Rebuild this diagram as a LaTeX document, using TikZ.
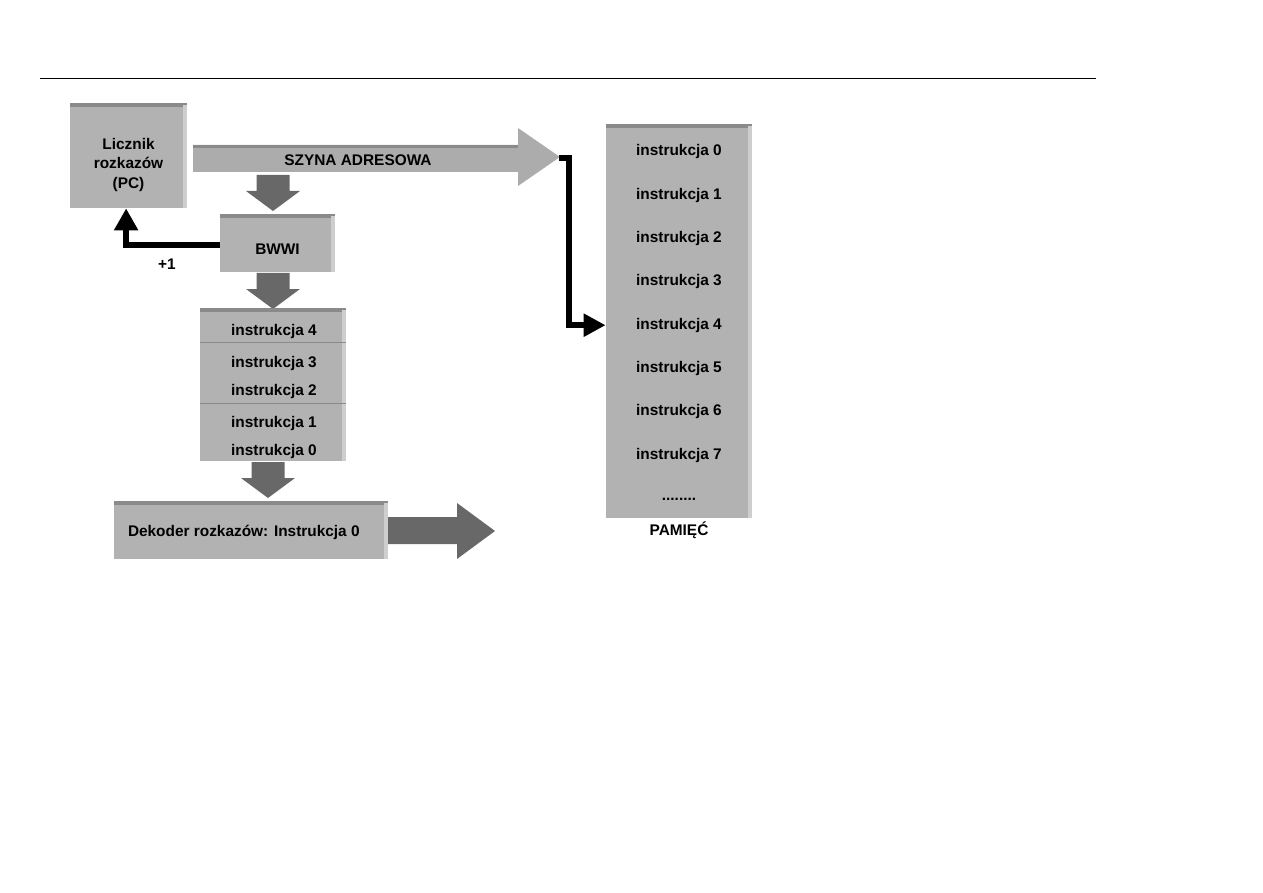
\documentclass[tikz,border=0pt]{standalone}
\usepackage{fontspec}
\setmainfont{Liberation Sans}
\usetikzlibrary{arrows.meta,positioning}

\definecolor{boxgray}{RGB}{178,178,178}
\definecolor{topgray}{RGB}{138,138,138}
\definecolor{sidegray}{RGB}{206,206,206}
\definecolor{busgray}{RGB}{172,172,172}
\definecolor{fatgray}{RGB}{104,104,104}

\begin{document}
\begin{tikzpicture}[x=0.5pt, y=-0.5pt,
    font=\fontsize{7.7}{9.8}\selectfont\bfseries,
    box/.style={fill=boxgray, inner sep=0pt, path picture={
        \fill[topgray] (path picture bounding box.north west) rectangle ([yshift=-2pt]path picture bounding box.north east);
        \fill[sidegray] ([xshift=-2.2pt,yshift=-1pt]path picture bounding box.north east) rectangle (path picture bounding box.south east);}},
    sz/.style 2 args={minimum width=#1*0.5pt, minimum height=#2*0.5pt},
    item/.style={inner sep=0pt, yshift=-1pt},
    link/.style={line width=3pt, -{Triangle[length=11pt,width=11pt]}},
    fb/.style={line width=3pt, -{Triangle[length=11pt,width=11.5pt]}},
    fat/.style={fill=fatgray},
    pics/downarr/.style={code={
        \fill[fat] (-16.5,0) -- (16.5,0) -- (16.5,16) -- (27,16) -- (0,36) -- (-27,16) -- (-16.5,16) -- cycle;}}
    ]
    \useasboundingbox (0,0) rectangle (1263,893);

    \draw[line width=0.5pt] (40,79) -- (1096,79);

    % licznik rozkazow
    \node[box, sz={117}{105}, label={[align=center, yshift=-4.6pt]center:Licznik\\rozkazów\\(PC)}] (licz) at (128.5,155.5) {};

    % szyna adresowa
    \fill[busgray] (193,145) -- (518,145) -- (518,128) -- (560,157) -- (518,186) -- (518,172) -- (193,172) -- cycle;
    \fill[topgray] (193,145) rectangle (518,148);
    \node[item] (bus) at (358,158) {SZYNA ADRESOWA};
    \coordinate (bustip) at (559,158);

    % BWWI
    \pic at (273,175) {downarr};
    \node[box, sz={115}{58}, label={[yshift=-3pt]center:BWWI}] (bwwi) at (277.5,243) {};
    \draw[fb] ([yshift=-1pt]bwwi.west) -| ([xshift=-1.2pt]licz.south);
    \node[item] (plus) at (167,262) {+1};

    % kolejka instrukcji
    \pic at (273,273) {downarr};
    \node[box, sz={146}{153}] (queue) at (273,384.5) {};
    \draw[topgray, line width=0.5pt] (queue.west |- 0,342) -- (queue.east |- 0,342);
    \draw[topgray, line width=0.5pt] (queue.west |- 0,403) -- (queue.east |- 0,403);
    \node[item] (q4) at (274,330) {instrukcja 4};
    \node[item] (q3) at (274,362) {instrukcja 3};
    \node[item] (q2) at (274,390) {instrukcja 2};
    \node[item] (q1) at (274,422) {instrukcja 1};
    \node[item] (q0) at (274,450) {instrukcja 0};

    % dekoder
    \pic at (268,462) {downarr};
    \node[box, sz={274}{58}] (dek) at (251,530) {};
    \node[item, anchor=west] (dektxt) at ([xshift=7pt]dek.west) {Dekoder rozkazów: Instrukcja 0};
    \fill[fat] (388,517) -- (457,517) -- (457,503) -- (495,531) -- (457,559) -- (457,544) -- (388,544) -- cycle;

    % pamiec
    \node[box, sz={146}{394}] (mem) at (679,321) {};
    \foreach \i in {0,...,7}
        \node[item] (m\i) at (679,150+43.3*\i) {instrukcja \i};
    \node[item] (mdots) at (679,497) {........};
    \node[item, below=0.5pt of mem] (pam) {PAMIĘĆ};

    \draw[link] (bustip) -- ++(10,0) |- (m4 -| mem.west);
\end{tikzpicture}
\end{document}
